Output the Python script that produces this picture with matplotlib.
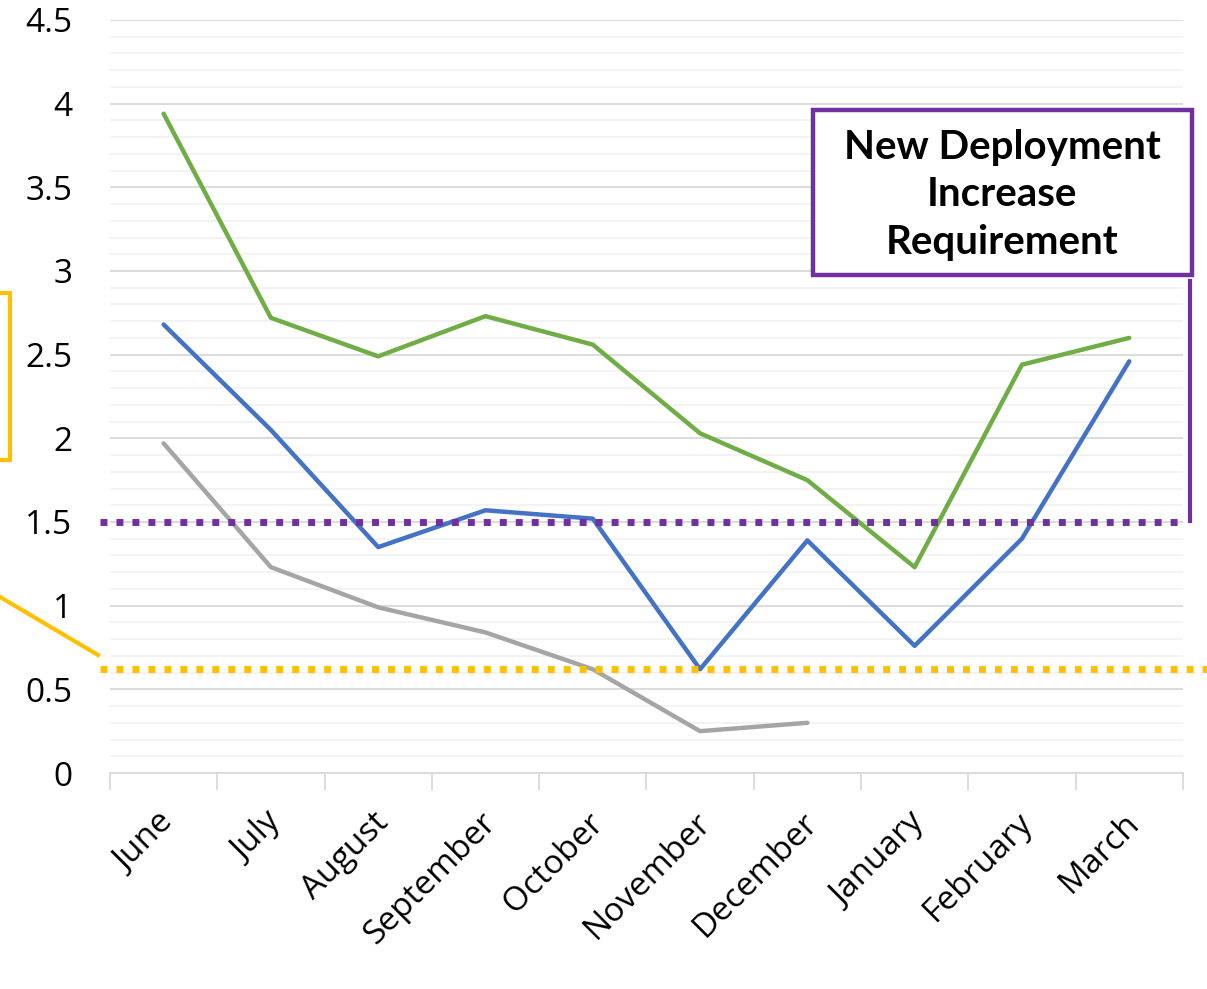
import matplotlib.pyplot as plt
from matplotlib.patches import Rectangle
from matplotlib.lines import Line2D
from matplotlib.ticker import MultipleLocator, FixedLocator
from matplotlib.transforms import ScaledTranslation

months = ["June", "July", "August", "September", "October",
          "November", "December", "January", "February", "March"]

green = [3.94, 2.72, 2.49, 2.73, 2.56, 2.03, 1.75, 1.23, 2.44, 2.60]
blue = [2.68, 2.05, 1.35, 1.57, 1.52, 0.62, 1.39, 0.76, 1.40, 2.46]
gray = [1.97, 1.23, 0.99, 0.84, 0.62, 0.25, 0.30]

deploy_req = 1.5
lower_req = 0.62

plt.rcParams['font.family'] = ['Open Sans', 'DejaVu Sans']

fig = plt.figure(figsize=(12.07, 9.89), dpi=100)
ax = fig.add_axes([0.0911, 0.2184, 0.8889, 0.7614])

x = list(range(len(months)))
ax.set_xlim(-0.5, len(months) - 0.5)
ax.set_ylim(0, 4.5)

# gridlines
ax.yaxis.set_major_locator(MultipleLocator(0.5))
ax.yaxis.set_minor_locator(MultipleLocator(0.1))
ax.grid(which='minor', axis='y', color='#F2F2F2', lw=1.3, zorder=0)
ax.grid(which='major', axis='y', color='#D9D9D9', lw=1.3, zorder=0)
ax.set_axisbelow(True)

for side in ['top', 'right', 'left']:
    ax.spines[side].set_visible(False)
ax.spines['bottom'].set_color('#D9D9D9')
ax.spines['bottom'].set_linewidth(1.3)

ax.set_xticks(x)
ax.set_xticklabels(months, rotation=45, ha='right', rotation_mode='anchor',
                   fontsize=24)
ax.tick_params(axis='x', which='major', length=0, pad=24)
shift = ScaledTranslation(-6 / 100, 0, fig.dpi_scale_trans)
for lbl in ax.get_xticklabels():
    lbl.set_transform(lbl.get_transform() + shift)
ax.xaxis.set_minor_locator(FixedLocator([i - 0.5 for i in range(len(months) + 1)]))
ax.tick_params(axis='x', which='minor', length=12, width=1.3, color='#D9D9D9')
ax.tick_params(axis='y', which='both', length=0, labelsize=24, pad=27)
ax.set_yticks([0, 0.5, 1, 1.5, 2, 2.5, 3, 3.5, 4, 4.5])
ax.set_yticklabels(['0', '0.5', '1', '1.5', '2', '2.5', '3', '3.5', '4', '4.5'])

# series
ax.plot(x, green, color='#70AD47', lw=3.2, solid_capstyle='round', zorder=3)
ax.plot(x, blue, color='#4472C4', lw=3.2, solid_capstyle='round', zorder=3)
ax.plot(x[:len(gray)], gray, color='#A5A5A5', lw=3.2, solid_capstyle='round', zorder=3)

# requirement lines (extend a little past the axes)
ax.plot([-0.59, 9.5], [deploy_req, deploy_req], color='#7030A0', lw=5,
        dashes=(1, 1.3), dash_capstyle='butt', clip_on=False, zorder=4)
ax.plot([-0.59, 9.75], [lower_req, lower_req], color='#FFC000', lw=5,
        dashes=(1, 1.3), dash_capstyle='butt', clip_on=False, zorder=4)

W, H = 1207, 989


def fx(px):
    return px / W


def fy(py):
    return 1 - py / H


# callout box for the deployment requirement
fig.patches.append(Rectangle((fx(813), fy(275)), fx(1192) - fx(813), fy(110) - fy(275),
                             transform=fig.transFigure, fill=True, facecolor='white',
                             edgecolor='#7030A0', lw=3.2, zorder=5))
fig.text(fx(1002), fy(195), "New Deployment\nIncrease\nRequirement",
         ha='center', va='center', fontsize=29, fontweight='bold',
         family=['Lato', 'DejaVu Sans'], linespacing=1.35, zorder=6)
fig.lines.append(Line2D([fx(1190), fx(1190)], [fy(281), fy(521)],
                        transform=fig.transFigure, color='#7030A0', lw=3))

# partial callout on the left edge
fig.patches.append(Rectangle((fx(-40), fy(460)), fx(50), fy(293) - fy(460),
                             transform=fig.transFigure, fill=False,
                             edgecolor='#FFC000', lw=3))
fig.lines.append(Line2D([fx(0), fx(98)], [fy(597), fy(655)],
                        transform=fig.transFigure, color='#FFC000', lw=3))

fig.savefig('out.png', dpi=100)
